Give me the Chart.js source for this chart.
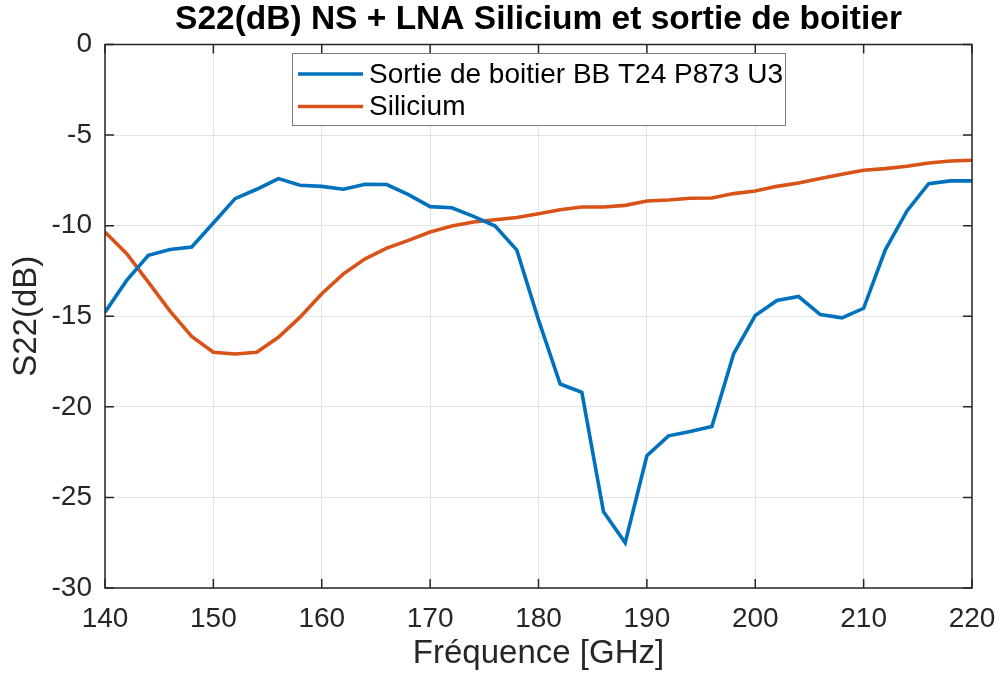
<!DOCTYPE html>
<html>
<head>
<meta charset="utf-8">
<script src="https://cdn.jsdelivr.net/npm/chart.js@4/dist/chart.umd.min.js"></script>
<style>
  html, body { margin: 0; padding: 0; background: #fff; }
  #wrap { width: 1000px; height: 674px; }
</style>
</head>
<body>
<div id="wrap"><canvas id="c" width="1000" height="674"></canvas></div>
<script>
// Frequency sweep (GHz), 2 GHz step
const freqGHz = [140,142,144,146,148,150,152,154,156,158,160,162,164,166,168,170,172,174,176,178,
                 180,182,184,186,188,190,192,194,196,198,200,202,204,206,208,210,212,214,216,218,220];

// S22 in dB, package output
const s22Boitier = [-14.78,-13.02,-11.64,-11.31,-11.18,-9.85,-8.51,-7.99,-7.40,-7.77,-7.83,-7.99,-7.72,-7.73,-8.29,-8.95,-9.01,-9.49,-10.02,-11.35,
                    -15.2,-18.74,-19.20,-25.80,-27.50,-22.70,-21.60,-21.36,-21.08,-17.08,-14.96,-14.13,-13.91,-14.91,-15.09,-14.56,-11.33,-9.19,-7.68,-7.53,-7.53];

// S22 in dB, silicon die
const s22Silicium = [-10.35,-11.55,-13.12,-14.72,-16.12,-16.99,-17.08,-16.99,-16.16,-15.05,-13.76,-12.66,-11.83,-11.24,-10.81,-10.35,-10.02,-9.80,-9.67,-9.55,
                     -9.34,-9.12,-8.97,-8.97,-8.88,-8.64,-8.58,-8.49,-8.47,-8.23,-8.09,-7.83,-7.64,-7.40,-7.16,-6.94,-6.85,-6.72,-6.54,-6.43,-6.39];

const seriesLabels = ['Sortie de boitier BB T24 P873 U3', 'Silicium'];
const chartTitle = 'S22(dB) NS + LNA Silicium et sortie de boitier';
const xTicks = [140,150,160,170,180,190,200,210,220];
const yTicks = [-30,-25,-20,-15,-10,-5,0];

const FONT = "'Liberation Sans', Arial, Helvetica, sans-serif";
const AXIS_COLOR = '#262626';

// Title centred over the plot area
const axesTitle = {
  id: 'axesTitle',
  afterDraw(chart) {
    const { ctx, chartArea: a } = chart;
    ctx.save();
    ctx.font = 'bold 33.5px ' + FONT;
    ctx.fillStyle = '#000000';
    ctx.textAlign = 'center';
    ctx.textBaseline = 'middle';
    ctx.fillText(chartTitle, (a.left + a.right) / 2, 20);
    ctx.restore();
  }
};

// Box around the axes with inward tick marks on all four sides
const boxTicks = {
  id: 'boxTicks',
  afterDraw(chart) {
    const { ctx, chartArea: a, scales } = chart;
    const len = 9;
    ctx.save();
    ctx.strokeStyle = AXIS_COLOR;
    ctx.lineWidth = 1.5;
    ctx.strokeRect(a.left, a.top, a.right - a.left, a.bottom - a.top);
    ctx.beginPath();
    xTicks.forEach(v => {
      const px = scales.x.getPixelForValue(v);
      ctx.moveTo(px, a.bottom); ctx.lineTo(px, a.bottom - len);
      ctx.moveTo(px, a.top); ctx.lineTo(px, a.top + len);
    });
    yTicks.forEach(v => {
      const py = scales.y.getPixelForValue(v);
      ctx.moveTo(a.left, py); ctx.lineTo(a.left + len, py);
      ctx.moveTo(a.right, py); ctx.lineTo(a.right - len, py);
    });
    ctx.stroke();
    ctx.restore();
  }
};

// Legend box placed inside the axes, near the top
const innerLegend = {
  id: 'innerLegend',
  afterDraw(chart) {
    const { ctx } = chart;
    const x0 = 292, y0 = 53, w = 493, h = 72;
    ctx.save();
    ctx.fillStyle = '#ffffff';
    ctx.fillRect(x0, y0, w, h);
    ctx.strokeStyle = '#7a7a7a';
    ctx.lineWidth = 1;
    ctx.strokeRect(x0 + 0.5, y0 + 0.5, w, h);
    ctx.font = '28px ' + FONT;
    ctx.textBaseline = 'middle';
    chart.data.datasets.forEach((ds, i) => {
      const y = y0 + 21 + i * 32.5;
      ctx.strokeStyle = ds.borderColor;
      ctx.lineWidth = 3.5;
      ctx.beginPath();
      ctx.moveTo(x0 + 6, y); ctx.lineTo(x0 + 71, y);
      ctx.stroke();
      ctx.fillStyle = '#000000';
      ctx.fillText(ds.label, x0 + 77, y + 1);
    });
    ctx.restore();
  }
};

new Chart(document.getElementById('c'), {
  type: 'line',
  data: {
    datasets: [
      {
        label: seriesLabels[0],
        data: freqGHz.map((f, i) => ({ x: f, y: s22Boitier[i] })),
        borderColor: '#0072BD',
        borderWidth: 3.6,
        pointRadius: 0,
        tension: 0,
        fill: false
      },
      {
        label: seriesLabels[1],
        data: freqGHz.map((f, i) => ({ x: f, y: s22Silicium[i] })),
        borderColor: '#D95319',
        borderWidth: 3.6,
        pointRadius: 0,
        tension: 0,
        fill: false
      }
    ]
  },
  options: {
    responsive: false,
    animation: false,
    devicePixelRatio: 1,
    layout: { padding: { left: 0, right: 28, top: 44.5, bottom: 0 } },
    plugins: {
      legend: { display: false },
      tooltip: { enabled: false },
      title: { display: false }
    },
    scales: {
      x: {
        type: 'linear',
        min: 140,
        max: 220,
        afterBuildTicks(scale) { scale.ticks = xTicks.map(v => ({ value: v })); },
        afterFit(scale) { scale.height = 86; scale.paddingLeft = 0; scale.paddingRight = 0; },
        grid: { color: '#e3e3e3', lineWidth: 1, drawTicks: false },
        border: { display: false },
        ticks: {
          color: AXIS_COLOR,
          font: { family: FONT, size: 28 },
          padding: 14,
          maxRotation: 0
        },
        title: {
          display: true,
          text: 'Fréquence [GHz]',
          color: AXIS_COLOR,
          font: { family: FONT, size: 33 },
          padding: { top: 0, bottom: 0 }
        }
      },
      y: {
        type: 'linear',
        min: -30,
        max: 0,
        afterBuildTicks(scale) { scale.ticks = yTicks.map(v => ({ value: v })); },
        afterFit(scale) { scale.width = 105; scale.paddingTop = 0; scale.paddingBottom = 0; },
        grid: { color: '#e3e3e3', lineWidth: 1, drawTicks: false },
        border: { display: false },
        ticks: {
          color: AXIS_COLOR,
          font: { family: FONT, size: 28 },
          padding: 13
        },
        title: {
          display: true,
          text: 'S22(dB)',
          color: AXIS_COLOR,
          font: { family: FONT, size: 33 },
          padding: { top: 7, bottom: 0 }
        }
      }
    }
  },
  plugins: [axesTitle, boxTicks, innerLegend]
});
</script>
</body>
</html>
